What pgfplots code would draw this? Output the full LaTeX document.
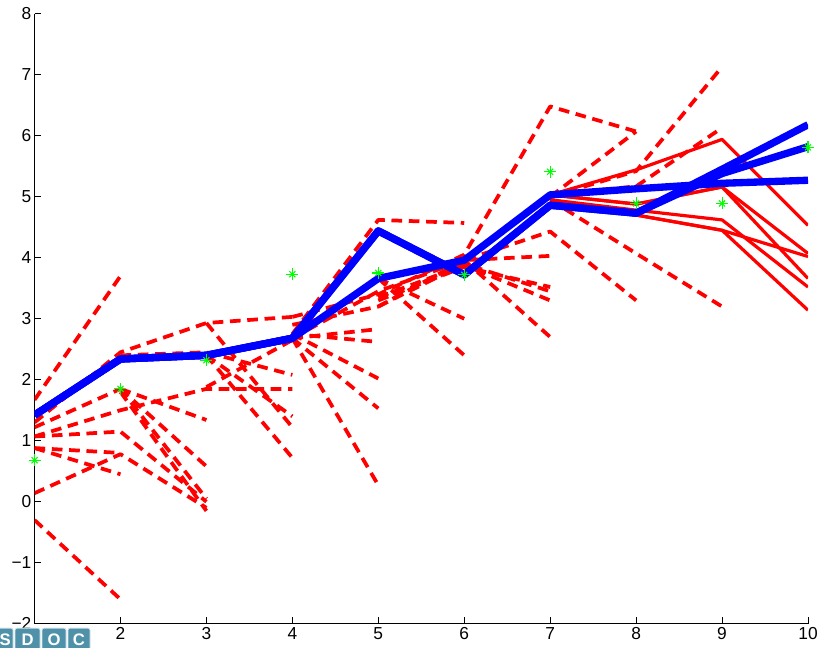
\documentclass[border=0pt]{standalone}
\usepackage{pgfplots}
\pgfplotsset{compat=1.18}
\usepackage{fontspec}
\setmainfont{Liberation Sans}
\usetikzlibrary{calc}
\begin{document}
\begin{tikzpicture}
\begin{axis}[name=ax, scale only axis, width=580.1pt, height=457.5pt,
  xmin=1, xmax=10, ymin=-2, ymax=8,
  axis x line=bottom, axis y line=left,
  axis line style={-, line width=0.8pt, black},
  tick style={black, line width=0.6pt}, major tick length=5pt, tick align=inside,
  xtick={1,...,10}, xticklabels={,2,3,4,5,6,7,8,9,10},
  ytick={-2,...,8}, yticklabels={−2,−1,0,1,2,3,4,5,6,7,8},
  tick label style={font=\fontsize{13}{14}\selectfont},
  yticklabel style={inner sep=2.2pt},
  xticklabel style={inner sep=2.5pt},
  dsh/.style={red, line width=2.8pt, dash pattern=on 8pt off 5pt, line join=round},
  sol/.style={red, line width=2.4pt, line join=round},
  blu/.style={blue, line width=5.5pt, line join=round},
]
% dashed (pruned) trajectories
\addplot[dsh] coordinates {(1,1.67)(2,3.70)};
\addplot[dsh] coordinates {(1,1.30)(2,2.45)(3,2.93)(4,3.03)};
\addplot[dsh] coordinates {(1,1.22)(2,1.85)};
\addplot[dsh] coordinates {(1,1.07)(2,1.50)(3,1.85)(4,1.85)};
\addplot[dsh] coordinates {(1,1.07)(2,1.15)(3,0.00)};
\addplot[dsh] coordinates {(1,0.88)(2,0.80)};
\addplot[dsh] coordinates {(1,0.88)(2,0.45)};
\addplot[dsh] coordinates {(1,0.14)(2,0.78)(3,-0.10)};
\addplot[dsh] coordinates {(1,-0.30)(2,-1.60)};
\addplot[dsh] coordinates {(2,2.40)(3,2.45)(4,2.08)};
\addplot[dsh] coordinates {(2,1.85)(3,1.34)};
\addplot[dsh] coordinates {(2,1.85)(3,0.58)};
\addplot[dsh] coordinates {(2,1.85)(3,0.05)};
\addplot[dsh] coordinates {(2,1.80)(3,-0.15)};
\addplot[dsh] coordinates {(3,1.88)(4,2.65)};
\addplot[dsh] coordinates {(3,2.40)(4,1.40)};
\addplot[dsh] coordinates {(3,2.93)(4,1.22)};
\addplot[dsh] coordinates {(3,2.40)(4,0.72)};
\addplot[dsh] coordinates {(4,2.75)(5,4.62)(6,4.57)};
\addplot[dsh] coordinates {(4,3.03)(5,3.40)(6,4.05)(7,6.48)(8,6.07)};
\addplot[dsh] coordinates {(4,2.68)(5,3.45)(6,3.96)(7,4.43)(8,3.30)};
\addplot[dsh] coordinates {(4,2.90)(5,3.20)(6,3.96)(7,4.03)};
\addplot[dsh] coordinates {(4,2.68)(5,2.83)};
\addplot[dsh] coordinates {(4,2.75)(5,2.62)};
\addplot[dsh] coordinates {(4,2.75)(5,2.02)};
\addplot[dsh] coordinates {(4,2.68)(5,1.53)};
\addplot[dsh] coordinates {(4,2.68)(5,0.27)};
\addplot[dsh] coordinates {(5,3.66)(6,3.00)};
\addplot[dsh] coordinates {(5,3.66)(6,2.40)};
\addplot[dsh] coordinates {(5,3.30)(6,3.85)(7,3.52)};
\addplot[dsh] coordinates {(5,3.20)(6,3.90)(7,3.45)};
\addplot[dsh] coordinates {(5,3.35)(6,3.88)(7,3.30)};
\addplot[dsh] coordinates {(6,3.96)(7,2.70)};
\addplot[dsh] coordinates {(7,5.00)(8,6.07)};
\addplot[dsh] coordinates {(7,5.03)(8,5.17)(9,6.13)};
\addplot[dsh] coordinates {(7,5.00)(8,5.42)(9,7.13)};
\addplot[dsh] coordinates {(7,4.95)(8,4.07)(9,3.20)};
% surviving trajectories
\addplot[sol] coordinates {(7,5.03)(8,5.44)(9,5.94)(10,4.53)};
\addplot[sol] coordinates {(7,5.03)(8,4.88)(9,5.16)(10,3.66)};
\addplot[sol] coordinates {(7,5.03)(8,4.88)(9,5.16)(10,4.07)};
\addplot[sol] coordinates {(7,4.95)(8,4.78)(9,4.62)(10,3.52)};
\addplot[sol] coordinates {(7,4.95)(8,4.70)(9,4.45)(10,4.02)};
\addplot[sol] coordinates {(7,4.95)(8,4.70)(9,4.45)(10,3.14)};
% best paths
\addplot[blu] coordinates {(1,1.42)(2,2.34)(3,2.40)(4,2.68)(5,4.44)(6,3.72)(7,4.86)(8,4.73)(9,5.45)(10,6.18)};
\addplot[blu] coordinates {(1,1.42)(2,2.34)(3,2.40)(4,2.68)(5,4.44)(6,3.72)(7,4.86)(8,4.73)(9,5.38)(10,5.82)};
\addplot[blu] coordinates {(1,1.42)(2,2.34)(3,2.40)(4,2.68)(5,3.66)(6,3.96)(7,5.03)(8,5.13)(9,5.22)(10,5.27)};
% observations
\addplot[only marks, green, mark=+, mark size=4.5pt, mark options={line width=0.8pt}] coordinates {(1,0.68)(2,1.85)(3,2.32)(4,3.73)(5,3.75)(6,3.72)(7,5.41)(8,4.89)(9,4.89)(10,5.81)};
\addplot[only marks, green, mark=x, mark size=3.2pt, mark options={line width=0.8pt}] coordinates {(1,0.68)(2,1.85)(3,2.32)(4,3.73)(5,3.75)(6,3.72)(7,5.41)(8,4.89)(9,4.89)(10,5.81)};
\end{axis}
% watermark-like logo at bottom left
\definecolor{logoteal}{RGB}{80,145,170}
\begin{scope}[shift={(ax.south west)}]
\foreach \a/\b/\t in {-28/-16.1/S, -14.6/4.1/D, 5.6/23.6/O, 25.1/41.6/C}{
  \fill[logoteal, draw=white!75!logoteal, line width=0.6pt, rounded corners=1.5pt] (\a pt,-3.3pt) rectangle (\b pt,-20pt);
  \node[white, font=\bfseries\fontsize{12.5}{13}\selectfont, anchor=base, inner sep=0pt] at ({(\a+\b)/2*1pt},-16.3pt) {\t};
}
\end{scope}
\pgfresetboundingbox
\path ($(ax.south west)+(-25.9pt,-17.5pt)$) rectangle ($(ax.north east)+(8.25pt,10.3pt)$);
\end{tikzpicture}
\end{document}
